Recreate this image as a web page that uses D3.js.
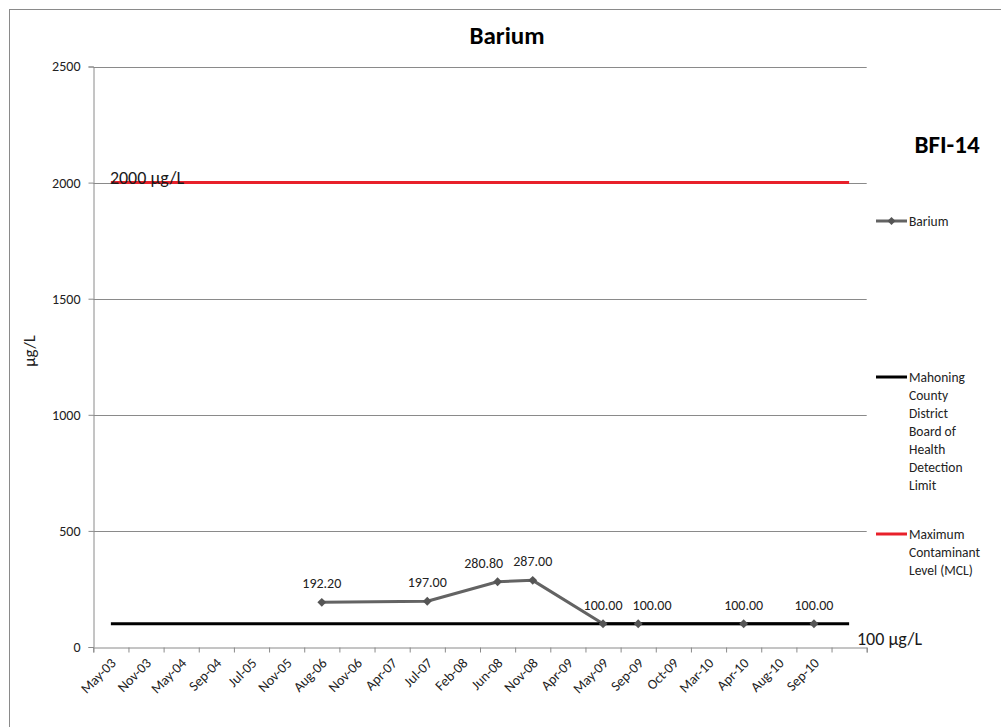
<!DOCTYPE html>
<html>
<head>
<meta charset="utf-8">
<script src="https://cdn.jsdelivr.net/npm/d3@7"></script>
<style>
  html, body { margin: 0; padding: 0; background: #fff; }
  svg { display: block; font-family: Carlito, "Noto Sans", sans-serif; }
</style>
</head>
<body>
<svg id="chart" width="1001" height="727"></svg>
<script>
// Sampling dates (category axis); the final slot is an unlabeled category
const categories = ["May-03", "Nov-03", "May-04", "Sep-04", "Jul-05", "Nov-05", "Aug-06", "Nov-06",
  "Apr-07", "Jul-07", "Feb-08", "Jun-08", "Nov-08", "Apr-09", "May-09", "Sep-09", "Oct-09",
  "Mar-10", "Apr-10", "Aug-10", "Sep-10", ""];

// Barium results in µg/L (null = not sampled)
const bariumValues = [null, null, null, null, null, null, 192.2, null, null, 197.0, null, 280.8,
  287.0, null, 100.0, 100.0, null, null, 100.0, null, 100.0, null];

// Reference levels in µg/L
const detectionLimit = 100;
const mclLevel = 2000;

const yTicks = [0, 500, 1000, 1500, 2000, 2500];

const legendItems = [
  { key: "barium", lines: ["Barium"] },
  { key: "detect", lines: ["Mahoning", "County", "District", "Board of", "Health", "Detection", "Limit"] },
  { key: "mcl", lines: ["Maximum", "Contaminant", "Level (MCL)"] }
];

const svg = d3.select("#chart");
const fontStack = 'Carlito, "Noto Sans", sans-serif';
const gridColor = "#8a8a8a";
const seriesColor = "#636363";
const mclColor = "#e8202a";

const plot = { left: 93.3, right: 866.7, top: 66.5, bottom: 647 };

const x = d3.scaleBand()
  .domain(d3.range(categories.length))
  .range([plot.left, plot.right])
  .padding(0);
const xc = i => x(i) + x.bandwidth() / 2;

const y = d3.scaleLinear().domain([0, 2500]).range([plot.bottom, plot.top]);

// Outer chart frame
svg.append("rect")
  .attr("x", 9.5).attr("y", 9.5)
  .attr("width", 1100).attr("height", 800)
  .attr("fill", "none").attr("stroke", gridColor).attr("stroke-width", 1);

// Horizontal gridlines
svg.append("g")
  .selectAll("line")
  .data(yTicks.filter(d => d > 0))
  .join("line")
  .attr("x1", plot.left).attr("x2", plot.right)
  .attr("y1", d => Math.round(y(d)) + 0.5).attr("y2", d => Math.round(y(d)) + 0.5)
  .attr("stroke", gridColor).attr("stroke-width", 1);

// Y axis
const yAxis = svg.append("g")
  .attr("transform", `translate(${Math.round(plot.left) + 0.5},0)`)
  .call(d3.axisLeft(y).tickValues(yTicks).tickSize(5).tickPadding(8).tickFormat(d3.format("d")));
yAxis.select(".domain").attr("stroke", gridColor);
yAxis.selectAll(".tick line").attr("stroke", gridColor);
yAxis.selectAll(".tick text")
  .attr("fill", "#222").style("font-size", "14px")
  .style("font-family", fontStack);

// X axis: tick marks on category boundaries
const xEdge = d3.scaleLinear().domain([0, categories.length]).range([plot.left, plot.right]);
const xTickAxis = svg.append("g")
  .attr("transform", `translate(0,${Math.round(plot.bottom) + 0.5})`)
  .call(d3.axisBottom(xEdge).tickValues(d3.range(categories.length + 1)).tickSize(5).tickFormat(""));
xTickAxis.select(".domain").attr("stroke", gridColor);
xTickAxis.selectAll(".tick line").attr("stroke", gridColor);

// X axis: rotated category labels centred on each band
const xLabelAxis = svg.append("g")
  .attr("transform", `translate(0,${plot.bottom})`)
  .call(d3.axisBottom(x).tickSize(0).tickFormat(i => categories[i]));
xLabelAxis.select(".domain").remove();
xLabelAxis.selectAll(".tick text")
  .attr("text-anchor", "end")
  .attr("dy", null)
  .attr("y", 0)
  .attr("transform", "translate(6,17) rotate(-45)")
  .attr("fill", "#222").style("font-size", "14px")
  .style("font-family", fontStack);

// Barium series line (gaps are spanned)
const points = bariumValues
  .map((v, i) => ({ i, v }))
  .filter(d => d.v !== null);

svg.append("path")
  .datum(points)
  .attr("d", d3.line().x(d => xc(d.i)).y(d => y(d.v)))
  .attr("fill", "none").attr("stroke", seriesColor).attr("stroke-width", 3)
  .attr("stroke-linejoin", "round");

// Reference lines
const refLine = d3.line().x((d, i) => xc(i)).y(d => y(d));
svg.append("path")
  .datum(categories.map(() => mclLevel))
  .attr("d", refLine)
  .attr("fill", "none").attr("stroke", mclColor).attr("stroke-width", 3);
svg.append("path")
  .datum(categories.map(() => detectionLimit))
  .attr("d", refLine)
  .attr("fill", "none").attr("stroke", "#000").attr("stroke-width", 3);

// Reference line captions
svg.append("text")
  .attr("x", xc(0) - 1).attr("y", y(mclLevel) + 1)
  .attr("fill", "#1a1a1a").style("font-size", "18px")
  .text(`${mclLevel} µg/L`);
svg.append("text")
  .attr("x", 857).attr("y", y(detectionLimit) + 21)
  .attr("fill", "#1a1a1a").style("font-size", "18px")
  .text(`${detectionLimit} µg/L`);

// Barium markers
const diamond = d3.symbol().type(d3.symbolDiamond2).size(50);
svg.append("g")
  .selectAll("path")
  .data(points)
  .join("path")
  .attr("d", diamond)
  .attr("transform", d => `translate(${xc(d.i)},${y(d.v)})`)
  .attr("fill", "#555");

// Value labels, centred above each point
const labels = svg.append("g")
  .selectAll("text")
  .data(points)
  .join("text")
  .attr("x", d => xc(d.i))
  .attr("y", d => y(d.v) - 14)
  .attr("text-anchor", "middle")
  .attr("fill", "#222").style("font-size", "14px")
  .text(d => d3.format(".2f")(d.v));

// Separate neighbouring labels that would overlap: the higher value keeps its
// place (earlier point on ties) and the other label slides away horizontally.
const labelGap = 10;
const boxes = labels.nodes().map((node, k) => {
  const w = node.getComputedTextLength();
  return { node, cx: xc(points[k].i), w, v: points[k].v };
});
for (let k = 0; k < boxes.length - 1; k++) {
  const a = boxes[k], b = boxes[k + 1];
  const overlap = (a.cx + a.w / 2 + labelGap) - (b.cx - b.w / 2);
  if (overlap > 0) {
    if (b.v > a.v) a.cx -= overlap;
    else b.cx += overlap;
  }
}
boxes.forEach(b => d3.select(b.node).attr("x", b.cx));

// Titles
svg.append("text")
  .attr("x", 507).attr("y", 44)
  .attr("text-anchor", "middle")
  .style("font-size", "25px").style("font-weight", "bold")
  .attr("fill", "#000")
  .text("Barium");

svg.append("text")
  .attr("x", 947).attr("y", 153)
  .attr("text-anchor", "middle")
  .style("font-size", "25px").style("font-weight", "bold")
  .attr("fill", "#000")
  .text("BFI-14");

svg.append("text")
  .attr("transform", "translate(35,351) rotate(-90)")
  .attr("text-anchor", "middle")
  .style("font-size", "17px")
  .attr("fill", "#222")
  .text("µg/L");

// Legend
const legendY = { barium: 221, detect: 377, mcl: 534 };
const legendStroke = { barium: seriesColor, detect: "#000", mcl: mclColor };
const legend = svg.append("g");
legendItems.forEach(item => {
  const ly = legendY[item.key];
  legend.append("line")
    .attr("x1", 876).attr("x2", 907)
    .attr("y1", ly).attr("y2", ly)
    .attr("stroke", legendStroke[item.key]).attr("stroke-width", 3);
  if (item.key === "barium") {
    legend.append("path")
      .attr("d", d3.symbol().type(d3.symbolDiamond2).size(40))
      .attr("transform", `translate(891.5,${ly})`)
      .attr("fill", "#555");
  }
  legend.append("text")
    .attr("x", 909).attr("y", ly + 5)
    .attr("fill", "#222").style("font-size", "13.5px")
    .selectAll("tspan")
    .data(item.lines)
    .join("tspan")
    .attr("x", 909)
    .attr("dy", (d, k) => k === 0 ? 0 : 18)
    .text(d => d);
});
</script>
</body>
</html>
